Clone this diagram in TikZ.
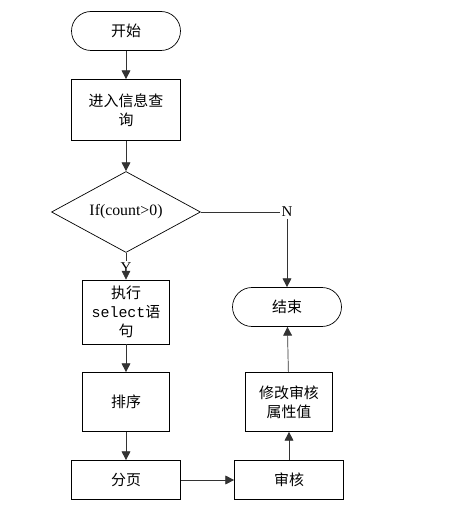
\documentclass[tikz,border=0pt]{standalone}
\usepackage{fontspec}
\setmainfont{Liberation Serif}
\setmonofont{Liberation Mono}
\newfontfamily\cjk{Noto Sans CJK SC}
\usetikzlibrary{positioning, arrows.meta, shapes.geometric}

\begin{document}
\begin{tikzpicture}[
  x=0.02cm, y=-0.02cm,
  terminal/.style={draw, rounded corners=0.39cm, minimum width=2.18cm,
              minimum height=0.78cm, align=center, font=\cjk\fontsize{8.5}{11}\selectfont},
  procbox/.style={draw, minimum width=2.18cm, minimum height=0.78cm,
              align=center, font=\cjk\fontsize{8.5}{11}\selectfont},
  narrowbox/.style={procbox, minimum width=1.74cm, minimum height=1.18cm},
  decision/.style={draw, diamond, aspect=1.84, inner sep=0pt,
              minimum width=2.98cm, minimum height=1.62cm,
              font=\fontsize{9}{11}\selectfont},
  yn/.style={font=\fontsize{8.5}{10}\selectfont, inner sep=1pt},
  arr/.style={-{Triangle[width=5pt,length=5pt]}, black!80},
  line/.style={black!80}
]
  \useasboundingbox (0,0) rectangle (472,519);

  % Left column
  \node[terminal]  (start)  at (126,31)  {开始};
  \node[procbox, minimum height=1.22cm] (query) at (126,110) {进入信息查\\询};
  \node[decision]  (cond)   at (126,212) {If(count>0)};
  \node[yn]        (yes)    at (126,268) {Y};
  \node[narrowbox] (exec)   at (126,312) {执行\\{\ttfamily select}语\\句};
  \node[narrowbox] (sort)   at (126,402) {排序};
  \node[procbox]   (page)   at (126,480) {分页};

  % Right column
  \node[yn]        (no)     at (287,212) {N};
  \node[terminal]  (finish) at (287,307) {结束};
  \node[narrowbox] (modify) at (289,402) {修改审核\\属性值};
  \node[procbox]   (audit)  at (289,480) {审核};

  % Arrows
  \draw[arr]  (start) -- (query);
  \draw[arr]  (query) -- (cond);
  \draw[line] (cond.south) -- (yes.north);
  \draw[arr]  (yes) -- (exec);
  \draw[arr]  (exec) -- (sort);
  \draw[arr]  (sort) -- (page);
  \draw[arr]  (page) -- (audit);
  \draw[arr]  (audit) -- (modify);
  \draw[arr]  (modify) -- (finish);
  \draw[line] (cond.east) -- (no.west);
  \draw[arr]  (no) -- (finish);

\end{tikzpicture}
\end{document}
